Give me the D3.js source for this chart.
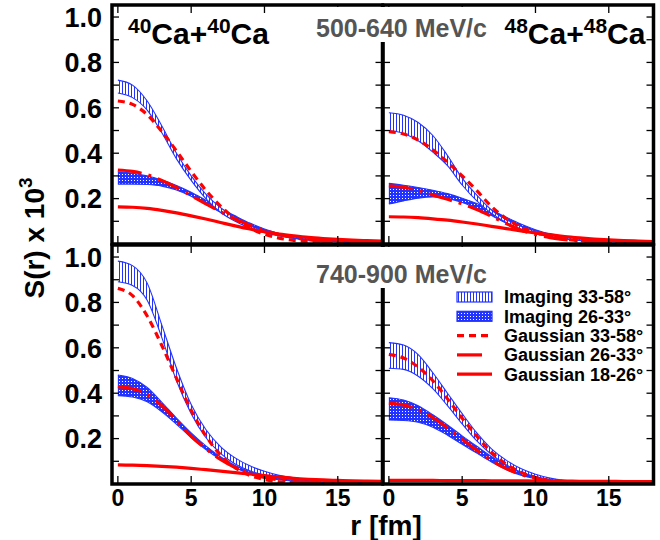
<!DOCTYPE html>
<html><head><meta charset="utf-8">
<script src="https://cdn.jsdelivr.net/npm/d3@7"></script>
<style>
body{margin:0;background:#fff}
text{font-family:"Liberation Sans",Arial,Helvetica,sans-serif;font-weight:bold}
</style>
</head><body>
<svg id="chart" width="660" height="540"></svg>
<script>
// ---------------- DATA ----------------
const rValues = [0,1,2,3,4,5,6,7,8,9,10,11,12,13,14,15,16,17,18];
const xTickValues = [0,5,10,15];
const yTickLabels = ["1.0","0.8","0.6","0.4","0.2"];
const yTickValues = [1.0,0.8,0.6,0.4,0.2];
const legendLabels = ["Imaging 33-58°","Imaging 26-33°","Gaussian 33-58°","Gaussian 26-33°","Gaussian 18-26°"];
const energyLabels = ["500-640 MeV/c","740-900 MeV/c"];

// 40Ca+40Ca, 500-640 MeV/c (top-left)
const imgHi3358_TL = [0.722,0.700,0.630,0.520,0.400,0.300,0.220,0.160,0.115,0.080,0.058,0.042,0.032,0.026,0.020,0.017,0.014,0.012,0.010];
const imgLo3358_TL = [0.665,0.645,0.590,0.490,0.375,0.280,0.200,0.140,0.100,0.070,0.050,0.036,0.027,0.021,0.017,0.014,0.012,0.010,0.009];
const gaus3358_TL  = [0.630,0.615,0.570,0.495,0.410,0.320,0.237,0.167,0.111,0.070,0.043,0.026,0.016,0.011,0.008,0.006,0.005,0.004,0.004];
const imgHi2633_TL = [0.318,0.312,0.300,0.282,0.258,0.228,0.193,0.158,0.124,0.092,0.066,0.046,0.032,0.022,0.016,0.012,0.010,0.008,0.007];
const imgLo2633_TL = [0.264,0.264,0.262,0.255,0.238,0.210,0.175,0.140,0.106,0.077,0.053,0.036,0.024,0.017,0.012,0.009,0.007,0.006,0.005];
const gaus2633_TL  = [0.326,0.320,0.305,0.280,0.249,0.213,0.177,0.142,0.110,0.083,0.060,0.042,0.028,0.019,0.012,0.008,0.006,0.005,0.004];
const gaus1826_TL  = [0.164,0.162,0.157,0.148,0.137,0.124,0.110,0.095,0.080,0.066,0.054,0.044,0.036,0.029,0.024,0.020,0.017,0.015,0.013];

// 48Ca+48Ca, 500-640 MeV/c (top-right)
const imgHi3358_TR = [0.578,0.567,0.535,0.478,0.390,0.290,0.215,0.150,0.108,0.078,0.058,0.042,0.032,0.025,0.020,0.017,0.014,0.012,0.010];
const imgLo3358_TR = [0.500,0.487,0.455,0.405,0.345,0.260,0.190,0.135,0.095,0.065,0.045,0.032,0.024,0.018,0.014,0.012,0.010,0.009,0.008];
const gaus3358_TR  = [0.495,0.485,0.458,0.415,0.360,0.300,0.235,0.165,0.112,0.075,0.050,0.032,0.021,0.015,0.011,0.009,0.007,0.006,0.005];
const imgHi2633_TR = [0.267,0.259,0.249,0.237,0.222,0.202,0.178,0.150,0.118,0.088,0.063,0.044,0.031,0.022,0.016,0.013,0.010,0.008,0.007];
const imgLo2633_TR = [0.176,0.190,0.202,0.207,0.200,0.183,0.157,0.125,0.092,0.065,0.045,0.031,0.022,0.016,0.012,0.010,0.008,0.007,0.006];
const gaus2633_TR  = [0.256,0.250,0.236,0.216,0.197,0.177,0.152,0.122,0.090,0.062,0.042,0.028,0.019,0.013,0.009,0.007,0.005,0.004,0.003];
const gaus1826_TR  = [0.120,0.119,0.116,0.111,0.105,0.097,0.088,0.078,0.068,0.058,0.049,0.041,0.033,0.027,0.022,0.018,0.015,0.013,0.011];

// 40Ca+40Ca, 740-900 MeV/c (bottom-left)
const imgHi3358_BL = [0.982,0.962,0.885,0.700,0.510,0.350,0.240,0.165,0.115,0.080,0.056,0.038,0.027,0.020,0.015,0.012,0.010,0.009,0.008];
const imgLo3358_BL = [0.891,0.875,0.810,0.645,0.455,0.310,0.205,0.135,0.088,0.058,0.040,0.028,0.020,0.015,0.012,0.010,0.008,0.007,0.006];
const gaus3358_BL  = [0.862,0.830,0.740,0.610,0.465,0.325,0.212,0.128,0.072,0.038,0.020,0.010,0.006,0.004,0.003,0.002,0.002,0.002,0.002];
const imgHi2633_BL = [0.480,0.465,0.425,0.360,0.290,0.225,0.168,0.120,0.082,0.055,0.036,0.024,0.016,0.012,0.009,0.007,0.006,0.005,0.005];
const imgLo2633_BL = [0.389,0.383,0.362,0.318,0.263,0.205,0.152,0.108,0.072,0.046,0.029,0.019,0.013,0.010,0.008,0.006,0.005,0.004,0.004];
const gaus2633_BL  = [0.429,0.420,0.395,0.345,0.280,0.210,0.155,0.108,0.072,0.046,0.029,0.018,0.011,0.007,0.005,0.004,0.003,0.003,0.003];
const gaus1826_BL  = [0.084,0.083,0.081,0.078,0.074,0.069,0.063,0.057,0.050,0.044,0.037,0.031,0.025,0.021,0.018,0.016,0.014,0.013,0.012];

// 48Ca+48Ca, 740-900 MeV/c (bottom-right)
const imgHi3358_BR = [0.623,0.612,0.570,0.490,0.400,0.310,0.225,0.155,0.105,0.068,0.043,0.026,0.016,0.011,0.008,0.006,0.005,0.005,0.004];
const imgLo3358_BR = [0.510,0.505,0.475,0.420,0.345,0.265,0.190,0.130,0.085,0.053,0.033,0.020,0.013,0.009,0.007,0.005,0.004,0.004,0.003];
const gaus3358_BR  = [0.571,0.555,0.515,0.455,0.375,0.290,0.210,0.140,0.088,0.052,0.029,0.015,0.008,0.004,0.003,0.002,0.002,0.002,0.002];
const imgHi2633_BR = [0.380,0.370,0.345,0.305,0.260,0.212,0.166,0.121,0.081,0.052,0.032,0.019,0.012,0.008,0.006,0.005,0.004,0.004,0.003];
const imgLo2633_BR = [0.282,0.280,0.272,0.250,0.215,0.175,0.136,0.097,0.064,0.039,0.023,0.013,0.008,0.006,0.005,0.004,0.003,0.003,0.003];
const gaus2633_BR  = [0.355,0.348,0.327,0.293,0.247,0.197,0.148,0.104,0.068,0.042,0.024,0.013,0.007,0.004,0.003,0.002,0.002,0.002,0.002];
const gaus1826_BR  = [0.016,0.016,0.016,0.016,0.015,0.015,0.015,0.014,0.014,0.014,0.013,0.013,0.013,0.012,0.012,0.012,0.011,0.011,0.011];

// ---------------- LAYOUT ----------------
const BLUE = "#2233ff", RED = "#ff0000";
const PW = 270.5, PH = 239;
const panels = [
  {x0:112, y0:5,   sys:"40", hi1:imgHi3358_TL, lo1:imgLo3358_TL, g1:gaus3358_TL, hi2:imgHi2633_TL, lo2:imgLo2633_TL, g2:gaus2633_TL, g3:gaus1826_TL, left:true,  bottom:false},
  {x0:383, y0:5,   sys:"48", hi1:imgHi3358_TR, lo1:imgLo3358_TR, g1:gaus3358_TR, hi2:imgHi2633_TR, lo2:imgLo2633_TR, g2:gaus2633_TR, g3:gaus1826_TR, left:false, bottom:false},
  {x0:112, y0:245, sys:null, hi1:imgHi3358_BL, lo1:imgLo3358_BL, g1:gaus3358_BL, hi2:imgHi2633_BL, lo2:imgLo2633_BL, g2:gaus2633_BL, g3:gaus1826_BL, left:true,  bottom:true},
  {x0:383, y0:245, sys:null, hi1:imgHi3358_BR, lo1:imgLo3358_BR, g1:gaus3358_BR, hi2:imgHi2633_BR, lo2:imgLo2633_BR, g2:gaus2633_BR, g3:gaus1826_BR, left:false, bottom:true, legend:true}
];

const svg = d3.select("#chart");
svg.append("rect").attr("width",660).attr("height",540).attr("fill","#fff");

const defs = svg.append("defs");
const vh = defs.append("pattern").attr("id","vhatch").attr("patternUnits","userSpaceOnUse")
  .attr("width",3).attr("height",6);
vh.append("rect").attr("width",3).attr("height",6).attr("fill","#fff");
vh.append("rect").attr("x",1).attr("width",1).attr("height",6).attr("fill",BLUE);
const ck = defs.append("pattern").attr("id","check").attr("patternUnits","userSpaceOnUse")
  .attr("width",3).attr("height",3);
ck.append("rect").attr("width",3).attr("height",3).attr("fill",BLUE);
ck.append("rect").attr("x",1).attr("y",1).attr("width",1).attr("height",1).attr("fill","#fff");

const x = d3.scaleLinear().domain([-0.4, 18.05]).range([0, PW]);
const y = d3.scaleLinear().domain([0, 1.053]).range([PH, 0]);

panels.forEach((p,i) => {
  const g = svg.append("g").attr("transform",`translate(${p.x0},${p.y0})`);
  const cid = "clip"+i;
  defs.append("clipPath").attr("id",cid).append("rect").attr("width",PW).attr("height",PH);
  const plot = g.append("g").attr("clip-path",`url(#${cid})`);

  const band = (hi, lo, fillId) => {
    const pts = rValues.map((r,k)=>({r, hi:hi[k], lo:lo[k]}));
    plot.append("path").datum(pts)
      .attr("d", d3.area().x(d=>x(d.r)).y0(d=>y(d.lo)).y1(d=>y(d.hi)).curve(d3.curveMonotoneX))
      .attr("fill",`url(#${fillId})`);
    [hi, lo].forEach(arr=>{
      plot.append("path").datum(rValues.map((r,k)=>[r,arr[k]]))
        .attr("d", d3.line().x(d=>x(d[0])).y(d=>y(d[1])).curve(d3.curveMonotoneX))
        .attr("fill","none").attr("stroke",BLUE).attr("stroke-width",1.1);
    });
  };
  band(p.hi2, p.lo2, "check");
  band(p.hi1, p.lo1, "vhatch");

  const redLine = (arr, dash) => {
    plot.append("path").datum(rValues.map((r,k)=>[r,arr[k]]))
      .attr("d", d3.line().x(d=>x(d[0])).y(d=>y(d[1])).curve(d3.curveMonotoneX))
      .attr("fill","none").attr("stroke",RED).attr("stroke-width",3.2)
      .attr("stroke-dasharray", dash);
  };
  redLine(p.g3, null);
  redLine(p.g2, "24,7,3,7");
  redLine(p.g1, "7,5");

  // ticks (inward) on all four sides
  const tk = g.append("g").attr("stroke","#000").attr("stroke-width",1.3);
  d3.range(0.1, 1.05, 0.1).forEach(v=>{
    tk.append("line").attr("x1",0).attr("x2",7).attr("y1",y(v)).attr("y2",y(v));
    tk.append("line").attr("x1",PW).attr("x2",PW-7).attr("y1",y(v)).attr("y2",y(v));
  });
  xTickValues.forEach(v=>{
    tk.append("line").attr("x1",x(v)).attr("x2",x(v)).attr("y1",PH).attr("y2",PH-8);
    tk.append("line").attr("x1",x(v)).attr("x2",x(v)).attr("y1",0).attr("y2",8);
  });

  // frame
  g.append("rect").attr("width",PW).attr("height",PH).attr("fill","none")
    .attr("stroke","#000").attr("stroke-width",3.5);

  if (p.left) {
    yTickValues.forEach((v,k)=>{
      g.append("text").attr("x",-10).attr("y",y(v)).attr("dy","0.36em")
        .attr("text-anchor","end").attr("font-size",27).attr("fill","#000").text(yTickLabels[k]);
    });
  }
  if (p.bottom) {
    xTickValues.forEach(v=>{
      g.append("text").attr("x",x(v)).attr("y",PH+22).attr("text-anchor","middle")
        .attr("font-size",23).attr("fill","#000").text(v);
    });
  }
  if (p.sys) {
    const t = g.append("text").attr("font-size",30).attr("fill","#000")
      .attr("x", p.left ? 16 : 121.5).attr("y",39);
    t.append("tspan").attr("font-size",21).attr("dy",-11).text(p.sys);
    t.append("tspan").attr("dy",11).text("Ca+");
    t.append("tspan").attr("font-size",21).attr("dy",-11).text(p.sys);
    t.append("tspan").attr("dy",11).text("Ca");
  }
  if (p.legend) {
    const lg = g.append("g").attr("transform","translate(74,52)");
    const rowY = k => k*19.3;
    lg.append("rect").attr("x",0).attr("y",rowY(0)-5).attr("width",35).attr("height",10)
      .attr("fill","url(#vhatch)").attr("stroke",BLUE).attr("stroke-width",1.2);
    lg.append("rect").attr("x",0).attr("y",rowY(1)-5).attr("width",35).attr("height",10)
      .attr("fill","url(#check)").attr("stroke",BLUE).attr("stroke-width",1.2);
    lg.append("line").attr("x1",0).attr("x2",32).attr("y1",rowY(2)).attr("y2",rowY(2))
      .attr("stroke",RED).attr("stroke-width",3.2).attr("stroke-dasharray","7,5");
    lg.append("line").attr("x1",0).attr("x2",25).attr("y1",rowY(3)).attr("y2",rowY(3))
      .attr("stroke",RED).attr("stroke-width",3.2);
    lg.append("line").attr("x1",0).attr("x2",35).attr("y1",rowY(4)).attr("y2",rowY(4))
      .attr("stroke",RED).attr("stroke-width",3.2);
    legendLabels.forEach((l,k)=>{
      lg.append("text").attr("x",47).attr("y",rowY(k)).attr("dy","0.36em")
        .attr("font-size",18).attr("fill","#000").text(l);
    });
  }
});

// energy labels with white backing that interrupts the central divider
[[5,37],[245,283]].forEach(([top,base],k)=>{
  svg.append("rect").attr("x",312).attr("y",top+2).attr("width",178).attr("height",base-top+3)
    .attr("fill","#fff");
  svg.append("text").attr("x",316).attr("y",base).attr("font-size",25)
    .attr("fill","#555").text(energyLabels[k]);
});

// axis titles
const yl = svg.append("text").attr("transform","translate(44,238) rotate(-90)")
  .attr("text-anchor","middle").attr("font-size",28).attr("fill","#000");
yl.append("tspan").text("S(r) x 10");
yl.append("tspan").attr("font-size",19).attr("dy",-12).text("3");

svg.append("text").attr("x",386).attr("y",535).attr("text-anchor","middle")
  .attr("font-size",28).attr("fill","#000").text("r [fm]");
</script>
</body></html>
